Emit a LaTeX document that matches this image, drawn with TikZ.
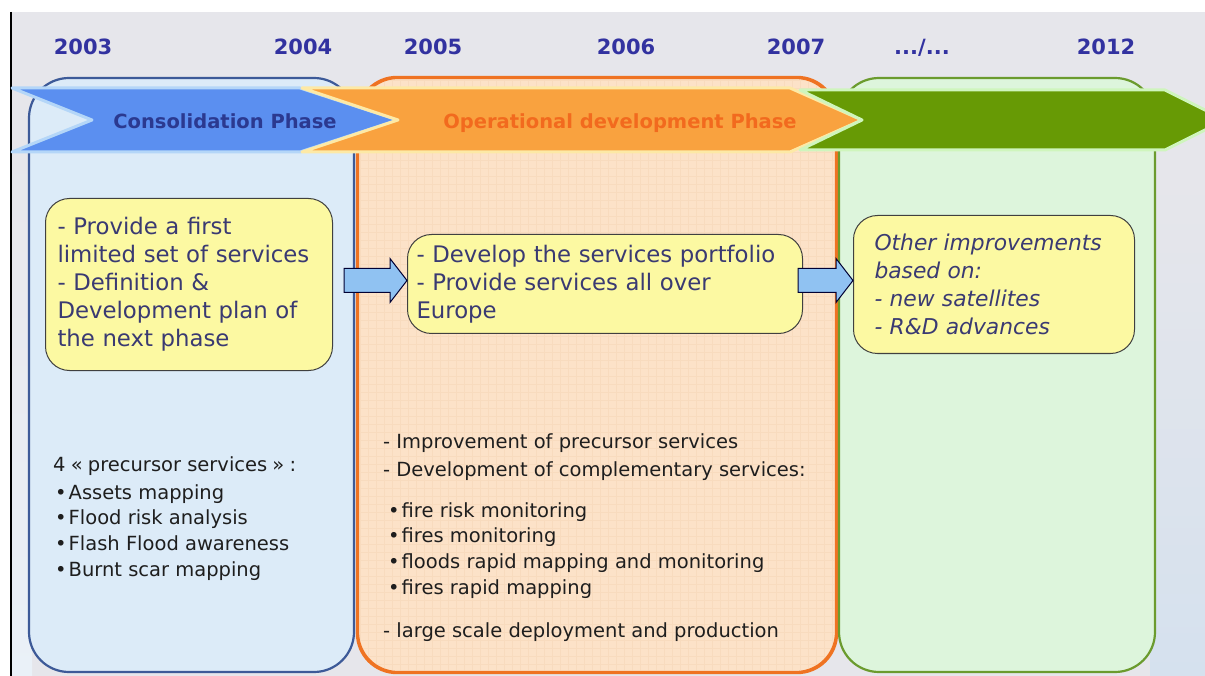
\documentclass[tikz,border=0pt]{standalone}
\usepackage{fontspec}
\setmainfont{DejaVu Sans}
\usetikzlibrary{calc}
\definecolor{bggray}{HTML}{E6E6EB}
\definecolor{bgblue}{HTML}{D5E1EE}
\definecolor{bgleft}{HTML}{EAF1F8}
\definecolor{yearc}{HTML}{3232A0}
\definecolor{bluefill}{HTML}{DCEBF8}
\definecolor{blueedge}{HTML}{3D5A98}
\definecolor{orfill}{HTML}{FCE2C8}
\definecolor{orgrid}{HTML}{F5D3B2}
\definecolor{oredge}{HTML}{EF7322}
\definecolor{grfill}{HTML}{DDF5DC}
\definecolor{gredge}{HTML}{6B9B2E}
\definecolor{blarrow}{HTML}{5B8FF0}
\definecolor{blglow}{HTML}{B4D6F8}
\definecolor{orarrow}{HTML}{F9A23F}
\definecolor{orglow}{HTML}{FDE9A6}
\definecolor{grarrow}{HTML}{679A05}
\definecolor{grglow}{HTML}{CFF5BD}
\definecolor{yel}{HTML}{FCF9A2}
\definecolor{boxtxt}{HTML}{3A3A72}
\definecolor{lowtxt}{HTML}{1E1E1E}
\definecolor{conslbl}{HTML}{2B3990}
\definecolor{oplbl}{HTML}{F26A1E}
\definecolor{arrfill}{HTML}{90C2F2}
\newcommand\blockarrowpath[2]{%
  \draw[blockarrow] ($(#1)+(0,-12)$) -- ($(#2)+(-17,-12)$) -- ($(#2)+(-17,-22)$) -- (#2)
    -- ($(#2)+(-17,22)$) -- ($(#2)+(-17,12)$) -- ($(#1)+(0,12)$) -- cycle;}
\begin{document}
\begin{tikzpicture}[x=1pt,y=-1pt,
  panel/.style={draw, line width=2.2pt, rounded corners=40pt, inner sep=0pt, minimum height=594pt},
  ybox/.style={draw=black!75, line width=1pt, fill=yel, rounded corners=24pt, align=left,
    text=boxtxt, font=\fontsize{22.8}{28}\selectfont, anchor=north west, inner ysep=0pt},
  yeartxt/.style={text=yearc, font=\bfseries\fontsize{21}{24}\selectfont, anchor=base, inner sep=0pt},
  phasetxt/.style={font=\bfseries\fontsize{19.5}{22}\selectfont, anchor=base, inner sep=0pt},
  lowtext/.style={text=lowtxt, font=\fontsize{19.5}{25.7}\selectfont, align=left, anchor=north west, inner sep=0pt},
  blockarrow/.style={draw=black!80!blue, line width=1pt, fill=arrfill, line join=miter},
  band/.style={line width=3pt, line join=round}]
\useasboundingbox (0,0) rectangle (1205,676);
% background
\fill[white] (0,0) rectangle (1205,676);
\fill[bggray] (11,12) rectangle (1205,676);
\shade[top color=bggray, bottom color=bgblue] (1150,180) rectangle (1205,676);
\shade[top color=bggray, bottom color=bgleft] (11,150) rectangle (32,676);
\draw[black, line width=1.5pt] (11,12) -- (11,676);
% panels
\node[panel, draw=blueedge, fill=bluefill, minimum width=325pt] (pblue) at (191.5,375) {};
\node[panel, draw=oredge, fill=orfill, minimum width=478pt] (porange) at (597,375) {};
\begin{scope}
  \clip[rounded corners=40pt] (359,79) rectangle (835,671);
  \draw[orgrid, line width=0.5pt, opacity=0.45] (359,79) grid[step=8pt] (835,671);
\end{scope}
\draw[oredge, line width=2.2pt, rounded corners=40pt] (porange.north west) rectangle (porange.south east);
\node[panel, draw=gredge, fill=grfill, minimum width=316pt] (pgreen) at (997,375) {};
% phase arrows
\draw[band, draw=blglow, fill=blarrow] (12,88) -- (300,88) -- (398,120) -- (300,152) -- (12,152) -- (92,120) -- cycle;
\draw[band, draw=orglow, fill=orarrow] (302,88) -- (790,88) -- (862,120) -- (790,152) -- (302,152) -- (398,120) -- cycle;
\draw[band, draw=grglow, fill=grarrow] (800,90) -- (1165,90) -- (1225,120) -- (1165,150) -- (800,150) -- (862,120) -- cycle;
\node[phasetxt, text=conslbl] (lcons) at (225,129) {Consolidation Phase};
\node[phasetxt, text=oplbl] (lop) at (620,129) {Operational development Phase};
% years
\node[yeartxt] (y2003) at (83,55) {2003};
\node[yeartxt] (y2004) at (303,55) {2004};
\node[yeartxt] (y2005) at (433,55) {2005};
\node[yeartxt] (y2006) at (626,55) {2006};
\node[yeartxt] (y2007) at (796,55) {2007};
\node[yeartxt] (ydots) at (922,55) {.../...};
\node[yeartxt] (y2012) at (1106,55) {2012};
% yellow boxes
\node[ybox, text width=263pt, inner xsep=12pt, minimum height=172pt] (b1) at (45,198)
  {- Provide a first\\limited set of services\\- Definition \&\\Development plan of\\the next phase};
\node[ybox, text width=377pt, inner xsep=9pt, minimum height=99pt] (b2) at (407,234)
  {- Develop the services portfolio\\- Provide services all over\\Europe};
\node[ybox, text width=239pt, inner xsep=21pt, minimum height=138pt, font=\itshape\fontsize{21.8}{28}\selectfont] (b3) at (853,215)
  {Other improvements\\based on:\\- new satellites\\- R\&D advances};
% block arrows
\coordinate (a1s) at ($(b1.east)+(11,-4)$);
\coordinate (a1e) at (b2.west |- a1s);
\blockarrowpath{a1s}{a1e}
\coordinate (a2s) at ($(b2.east)+(-5,-3.5)$);
\coordinate (a2e) at (b3.west |- a2s);
\blockarrowpath{a2s}{a2e}
% lower texts
\node[lowtext] (t1) at (53,456) {4\hspace{-1pt} «\hspace{-1pt} precursor services\hspace{-1pt} »\hspace{-1pt} :};
\node[lowtext] (t2) at (55,484) {•\hspace{2pt}Assets mapping\\•\hspace{2pt}Flood risk analysis\\•\hspace{2pt}Flash Flood awareness\\•\hspace{2pt}Burnt scar mapping};
\node[lowtext, font=\fontsize{19.5}{28}\selectfont] (t3) at (383,433) {- Improvement of precursor services\\- Development of complementary services:};
\node[lowtext] (t4) at (388,502) {•\hspace{2pt}fire risk monitoring\\•\hspace{2pt}fires monitoring\\•\hspace{2pt}floods rapid mapping and monitoring\\•\hspace{2pt}fires rapid mapping};
\node[lowtext] (t5) at (383,622) {- large scale deployment and production};
\end{tikzpicture}
\end{document}
